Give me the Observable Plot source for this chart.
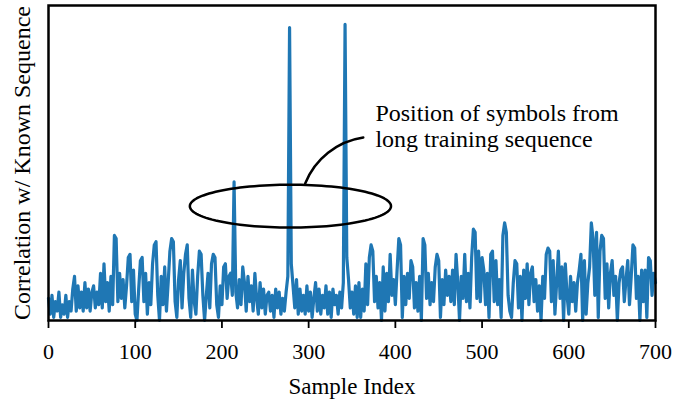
<!DOCTYPE html>
<html>
<head>
<meta charset="utf-8">
<script src="https://cdn.jsdelivr.net/npm/d3@7"></script>
<script src="https://cdn.jsdelivr.net/npm/@observablehq/plot@0.6"></script>
<style>
  html, body { margin: 0; padding: 0; background: #fff; }
  #chart svg { display: block; }
</style>
</head>
<body>
<div id="chart"></div>
<script>
// Correlation magnitude, one value every 2 samples (sample index 0..700)
const correlation = [
  /*   0 */ 7,2,8,1,6,3,9,1,5,2,
  /*  20 */ 8,1,6,3,10,14,3,11,4,9,
  /*  40 */ 3,12,4,10,3,9,11,4,9,5,
  /*  60 */ 15,4,18,6,12,3,14,5,27,26,
  /*  80 */ 6,15,7,13,4,11,20,21,6,16,
  /* 100 */ 2,0,10,19,20,6,15,2,12,5,
  /* 120 */ 18,24,25,8,0,14,5,17,3,12,
  /* 140 */ 22,26,25,6,1,13,19,4,15,21,
  /* 160 */ 24,7,1,16,6,2,14,22,21,8,
  /* 180 */ 0,8,15,4,18,21,20,5,1,11,
  /* 200 */ 5,17,18,7,14,15,8,44,9,4,
  /* 220 */ 13,5,17,12,3,14,6,11,3,15,
  /* 240 */ 7,2,12,4,10,2,8,9,3,8,
  /* 260 */ 1,10,4,9,2,7,3,9,14,93,
  /* 280 */ 18,11,4,13,2,10,3,8,2,11,
  /* 300 */ 3,9,1,7,12,3,10,2,8,4,
  /* 320 */ 11,2,9,1,10,5,8,2,9,4,
  /* 340 */ 12,94,20,13,4,9,2,11,1,12,
  /* 360 */ 1,10,3,18,5,20,24,22,6,14,
  /* 380 */ 4,12,0,17,3,15,6,21,8,13,
  /* 400 */ 5,16,26,24,1,14,5,15,7,19,
  /* 420 */ 17,4,12,3,14,0,26,24,7,15,
  /* 440 */ 5,12,6,17,21,19,1,13,5,16,
  /* 460 */ 8,14,6,16,5,21,12,0,14,7,
  /* 480 */ 21,6,15,4,20,29,28,7,22,6,
  /* 500 */ 20,16,5,15,1,21,22,6,19,5,
  /* 520 */ 13,1,27,31,28,8,3,1,12,19,
  /* 540 */ 18,4,14,0,16,7,18,5,15,17,
  /* 560 */ 6,13,3,11,0,14,7,21,23,22,
  /* 580 */ 6,19,2,12,22,7,17,0,18,8,
  /* 600 */ 2,14,6,12,3,12,16,21,0,19,
  /* 620 */ 2,12,17,31,26,8,28,1,22,27,
  /* 640 */ 26,7,18,4,15,19,8,14,0,12,
  /* 660 */ 16,17,6,13,19,5,14,24,23,7,
  /* 680 */ 14,0,16,6,16,1,20,19,8,15,
  /* 700 */ 12
];
const sampleStep = 2;
const xTicks = [0, 100, 200, 300, 400, 500, 600, 700];
const xLabel = "Sample Index";
const yLabel = "Correlation w/ Known Sequence";
const noteText = ["Position of symbols from", "long training sequence"];
// annotation geometry in data units
const ellipseCenter = [279, 36.3];
const ellipseRadii = [116, 6.8];
const connectorFrom = [296, 43.5];
const connectorTo = [363, 58.1];
const noteAt = [377, 61.8];

const serif = "'Liberation Serif', 'Times New Roman', Times, serif";
const series = correlation.map((v, i) => ({sample: i * sampleStep, value: v}));
const ellipsePts = d3.range(0, 121).map(k => {
  const t = (k / 120) * 2 * Math.PI;
  return {x: ellipseCenter[0] + ellipseRadii[0] * Math.cos(t), y: ellipseCenter[1] + ellipseRadii[1] * Math.sin(t)};
});

const chart = Plot.plot({
  width: 699,
  height: 405,
  marginLeft: 48,
  marginRight: 44,
  marginTop: 5,
  marginBottom: 85,
  x: {domain: [0, 700]},
  y: {domain: [0, 100], axis: null},
  style: {fontFamily: serif, fontSize: "22px", background: "white", color: "black"},
  marks: [
    Plot.lineY(series, {x: "sample", y: "value", stroke: "#1f77b4", strokeWidth: 3.2}),
    Plot.line(ellipsePts, {x: "x", y: "y", stroke: "black", strokeWidth: 2.5}),
    Plot.arrow([{a: connectorFrom, b: connectorTo}], {
      x1: d => d.a[0], y1: d => d.a[1], x2: d => d.b[0], y2: d => d.b[1],
      bend: 30, headLength: 0, stroke: "black", strokeWidth: 2.5
    }),
    Plot.text([noteText.join("\n")], {
      x: () => noteAt[0], y: () => noteAt[1], text: d => d,
      textAnchor: "start", lineAnchor: "middle", fontSize: 24, lineHeight: 1.05, fill: "black", fontFamily: serif
    }),
    Plot.frame({stroke: "black", strokeWidth: 2.5}),
    Plot.axisX({ticks: xTicks, tickSize: 8, tickPadding: 15, fontSize: 22, fontFamily: serif, label: null, tickFormat: d => String(d), strokeWidth: 1.8}),
    Plot.text([xLabel], {text: d => d, frameAnchor: "bottom", dy: 73, fontSize: 23, fill: "black", fontFamily: serif}),
    Plot.text([yLabel], {text: d => d, frameAnchor: "left", textAnchor: "middle", dx: -26, rotate: -90, fontSize: 24, fill: "black", fontFamily: serif})
  ]
});
document.getElementById("chart").appendChild(chart);
</script>
</body>
</html>
